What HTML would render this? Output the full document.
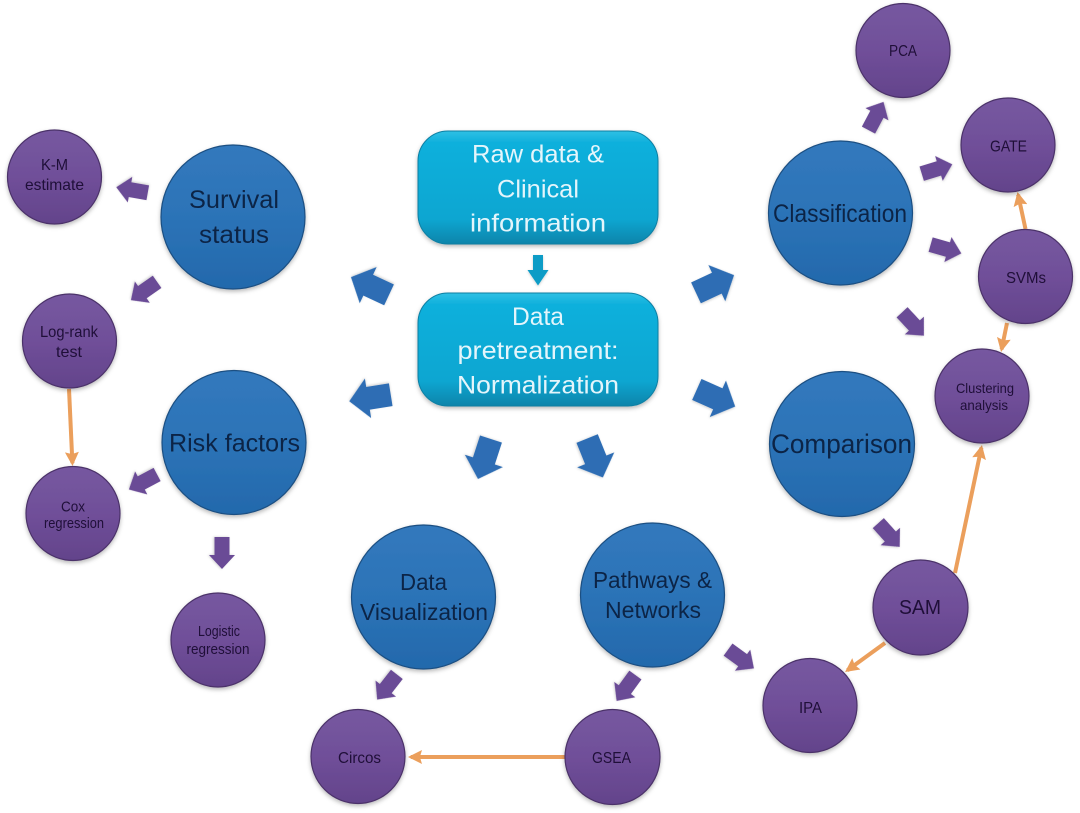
<!DOCTYPE html>
<html><head><meta charset="utf-8"><style>
html,body{margin:0;padding:0;background:#fff}
svg{display:block}
text{font-family:"Liberation Sans",sans-serif;text-anchor:middle}
.b{fill:#0c2446;font-size:25px}
.c{fill:#e4f5fb;font-size:25px}
.p{fill:#1f0f38;font-size:16px}
</style></head><body>
<svg width="1080" height="813" viewBox="0 0 1080 813" xmlns="http://www.w3.org/2000/svg">
<defs>
<linearGradient id="gb" x1="0" y1="0" x2="0" y2="1"><stop offset="0" stop-color="#3279bd"/><stop offset=".5" stop-color="#2c73b7"/><stop offset="1" stop-color="#2369ac"/></linearGradient>
<linearGradient id="gp" x1="0" y1="0" x2="0" y2="1"><stop offset="0" stop-color="#7658a0"/><stop offset=".5" stop-color="#704f99"/><stop offset="1" stop-color="#63438b"/></linearGradient>
<linearGradient id="gc" x1="0" y1="0" x2="0" y2="1"><stop offset="0" stop-color="#2fc0e4"/><stop offset=".1" stop-color="#0fb0dc"/><stop offset=".78" stop-color="#0ca6d1"/><stop offset="1" stop-color="#0a84aa"/></linearGradient>
<filter id="s" x="-15%" y="-15%" width="130%" height="130%"><feDropShadow dx="0" dy="2" stdDeviation="2" flood-color="#000" flood-opacity=".28"/></filter>
<filter id="sa" x="-30%" y="-30%" width="160%" height="160%"><feDropShadow dx="0" dy="1" stdDeviation="1.2" flood-color="#000" flood-opacity=".2"/></filter>
<polygon id="ab" points="-21,-11.500 2,-11.500 2,-20 21,0 2,20 2,11.500 -21,11.500" fill="#2d6db4" filter="url(#sa)"/>
<polygon id="ap" points="-16,-7.500 2,-7.500 2,-13 16,0 2,13 2,7.500 -16,7.500" fill="#6b4b96" filter="url(#sa)"/>
<marker id="m" viewBox="0 0 10 10" refX="8" refY="5" markerWidth="14" markerHeight="14" markerUnits="userSpaceOnUse" orient="auto"><path d="M0,0 L10,5 L0,10 L1.500,5 Z" fill="#eb9f5c"/></marker>
</defs>

<!-- boxes -->
<rect x="418" y="131" width="240" height="113" rx="30" fill="url(#gc)" stroke="#0b7fa3" stroke-width="1" filter="url(#s)"/>
<rect x="418" y="293" width="240" height="113" rx="30" fill="url(#gc)" stroke="#0b7fa3" stroke-width="1" filter="url(#s)"/>
<text class="c" x="538" y="162.500" textLength="132" lengthAdjust="spacingAndGlyphs">Raw data &amp;</text>
<text class="c" x="538" y="197.500" textLength="82" lengthAdjust="spacingAndGlyphs">Clinical</text>
<text class="c" x="538" y="231.500" textLength="136" lengthAdjust="spacingAndGlyphs">information</text>
<text class="c" x="538" y="325" textLength="52" lengthAdjust="spacingAndGlyphs">Data</text>
<text class="c" x="538" y="359" textLength="161" lengthAdjust="spacingAndGlyphs">pretreatment:</text>
<text class="c" x="538" y="393.500" textLength="162" lengthAdjust="spacingAndGlyphs">Normalization</text>
<polygon points="533,255 543,255 543,270 548.500,270 538,285.500 527.500,270 533,270" fill="#0f9cc6" filter="url(#sa)"/>

<!-- blue arrows -->
<use href="#ab" transform="translate(370,286) rotate(205)"/>
<use href="#ab" transform="translate(370,398) rotate(171)"/>
<use href="#ab" transform="translate(715,284) rotate(-25)"/>
<use href="#ab" transform="translate(716,398) rotate(24)"/>
<use href="#ab" transform="translate(484.500,459) rotate(108)"/>
<use href="#ab" transform="translate(595,458) rotate(68)"/>

<!-- purple arrows -->
<use href="#ap" transform="translate(132,190) rotate(190)"/>
<use href="#ap" transform="translate(144,291) rotate(145)"/>
<use href="#ap" transform="translate(143,482) rotate(152)"/>
<use href="#ap" transform="translate(222,553) rotate(90)"/>
<use href="#ap" transform="translate(876,116) rotate(-62)"/>
<use href="#ap" transform="translate(937,169) rotate(-17)"/>
<use href="#ap" transform="translate(946,249) rotate(16)"/>
<use href="#ap" transform="translate(913,324) rotate(47)"/>
<use href="#ap" transform="translate(889,535) rotate(48)"/>
<use href="#ap" transform="translate(741,659) rotate(36)"/>
<use href="#ap" transform="translate(626,688) rotate(126)"/>
<use href="#ap" transform="translate(387,687) rotate(128)"/>

<!-- orange connectors -->
<g stroke="#eb9f5c" stroke-width="4" fill="none">
<line x1="69" y1="389" x2="72.400" y2="463.200" marker-end="url(#m)"/>
<line x1="1025.500" y1="229" x2="1018.100" y2="194.700" marker-end="url(#m)"/>
<line x1="1007" y1="323" x2="1001.600" y2="349.300" marker-end="url(#m)"/>
<line x1="955" y1="573" x2="981.400" y2="447.700" marker-end="url(#m)"/>
<line x1="885" y1="643" x2="847.300" y2="670.400" marker-end="url(#m)"/>
<line x1="565" y1="757" x2="410.800" y2="757" marker-end="url(#m)"/>
</g>

<!-- big blue circles -->
<g fill="url(#gb)" stroke="#1b4f82" stroke-width="1.200" filter="url(#s)">
<circle cx="233" cy="217" r="72"/>
<circle cx="234" cy="442.500" r="72"/>
<circle cx="423.500" cy="597" r="72"/>
<circle cx="652.500" cy="595" r="72"/>
<circle cx="840.500" cy="213" r="72"/>
<circle cx="842" cy="444" r="72.500"/>
</g>
<text class="b" x="234" y="208" textLength="90" lengthAdjust="spacingAndGlyphs">Survival</text>
<text class="b" x="234" y="243" textLength="70" lengthAdjust="spacingAndGlyphs">status</text>
<text class="b" x="234.500" y="451.500" textLength="131" lengthAdjust="spacingAndGlyphs">Risk factors</text>
<text class="b" x="423.500" y="590" style="font-size:23px" textLength="47" lengthAdjust="spacingAndGlyphs">Data</text>
<text class="b" x="424" y="620" style="font-size:23px" textLength="128" lengthAdjust="spacingAndGlyphs">Visualization</text>
<text class="b" x="652.500" y="588" style="font-size:23px" textLength="119" lengthAdjust="spacingAndGlyphs">Pathways &amp;</text>
<text class="b" x="653" y="618" style="font-size:23px" textLength="96" lengthAdjust="spacingAndGlyphs">Networks</text>
<text class="b" x="840" y="222" textLength="134" lengthAdjust="spacingAndGlyphs">Classification</text>
<text class="b" x="841.500" y="453" style="font-size:27px" textLength="141" lengthAdjust="spacingAndGlyphs">Comparison</text>

<!-- purple circles -->
<g fill="url(#gp)" stroke="#4b3269" stroke-width="1.200" filter="url(#s)">
<circle cx="903" cy="50.500" r="47"/>
<circle cx="1008" cy="145" r="47"/>
<circle cx="1025.500" cy="276.500" r="47"/>
<circle cx="982" cy="396" r="47"/>
<circle cx="54.500" cy="177" r="47"/>
<circle cx="69.500" cy="341" r="47"/>
<circle cx="73" cy="513.500" r="47"/>
<circle cx="218" cy="640" r="47"/>
<circle cx="920.500" cy="607.500" r="47.500"/>
<circle cx="810" cy="705.500" r="47"/>
<circle cx="612.500" cy="757" r="47.500"/>
<circle cx="358" cy="756.500" r="47"/>
</g>
<text class="p" x="903" y="56" textLength="28" lengthAdjust="spacingAndGlyphs">PCA</text>
<text class="p" x="1008.500" y="151.500" textLength="37" lengthAdjust="spacingAndGlyphs">GATE</text>
<text class="p" x="1026" y="283" textLength="40" lengthAdjust="spacingAndGlyphs">SVMs</text>
<text class="p" x="985" y="393" style="font-size:14px" textLength="58" lengthAdjust="spacingAndGlyphs">Clustering</text>
<text class="p" x="984" y="410" style="font-size:14px" textLength="48" lengthAdjust="spacingAndGlyphs">analysis</text>
<text class="p" x="54.500" y="170" textLength="27" lengthAdjust="spacingAndGlyphs">K-M</text>
<text class="p" x="54.500" y="190" textLength="59" lengthAdjust="spacingAndGlyphs">estimate</text>
<text class="p" x="69" y="337" textLength="58" lengthAdjust="spacingAndGlyphs">Log-rank</text>
<text class="p" x="69" y="357" textLength="26" lengthAdjust="spacingAndGlyphs">test</text>
<text class="p" x="73" y="511.500" style="font-size:15px" textLength="24" lengthAdjust="spacingAndGlyphs">Cox</text>
<text class="p" x="74" y="528" style="font-size:15px" textLength="60" lengthAdjust="spacingAndGlyphs">regression</text>
<text class="p" x="219" y="636" style="font-size:15px" textLength="42" lengthAdjust="spacingAndGlyphs">Logistic</text>
<text class="p" x="218" y="654" style="font-size:15px" textLength="63" lengthAdjust="spacingAndGlyphs">regression</text>
<text class="p" x="920" y="614" style="font-size:20px" textLength="42" lengthAdjust="spacingAndGlyphs">SAM</text>
<text class="p" x="810.500" y="713" textLength="23" lengthAdjust="spacingAndGlyphs">IPA</text>
<text class="p" x="611.500" y="763" textLength="39" lengthAdjust="spacingAndGlyphs">GSEA</text>
<text class="p" x="359.500" y="763" textLength="43" lengthAdjust="spacingAndGlyphs">Circos</text>
</svg>
</body></html>
